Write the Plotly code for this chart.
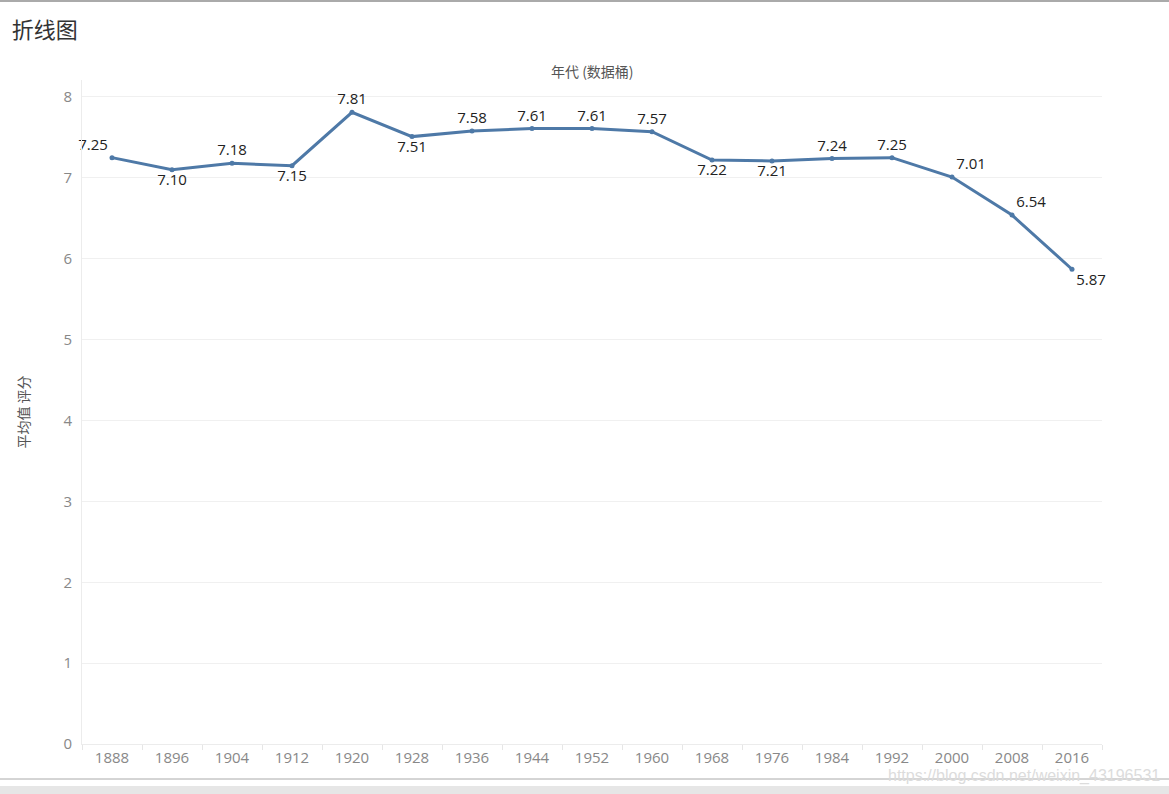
import plotly.graph_objects as go

years = [1888, 1896, 1904, 1912, 1920, 1928, 1936, 1944, 1952, 1960,
         1968, 1976, 1984, 1992, 2000, 2008, 2016]
ratings = [7.25, 7.10, 7.18, 7.15, 7.81, 7.51, 7.58, 7.61, 7.61, 7.57,
           7.22, 7.21, 7.24, 7.25, 7.01, 6.54, 5.87]
label_pos = ["top left", "bottom center", "top center", "bottom center", "top center",
             "bottom center", "top center", "top center", "top center", "top center",
             "bottom center", "bottom center", "top center", "top center", "top right",
             "top right", "bottom right"]
y_ticks = [0, 1, 2, 3, 4, 5, 6, 7, 8]

font_cjk = "Noto Sans CJK SC"
W, H = 1169, 794
L, R, T, B = 82, 67, 80, 50
PW, PH = W - L - R, H - T - B


def py(pix):
    """paper y from a pixel row"""
    return (H - B - pix) / PH


fig = go.Figure()
fig.add_trace(go.Scatter(
    x=years, y=ratings, mode="lines+markers+text",
    line=dict(color="#4e79a7", width=3),
    marker=dict(color="#4e79a7", size=5),
    text=[f"{v:.2f}" for v in ratings],
    textposition=label_pos,
    textfont=dict(family="Open Sans", size=15, color="#222"),
    cliponaxis=False,
    hoverinfo="skip", showlegend=False,
))

fig.update_layout(
    width=W, height=H,
    margin=dict(l=L, r=R, t=T, b=B, autoexpand=False),
    paper_bgcolor="white", plot_bgcolor="white",
    title=dict(text="折线图", x=0.01, xanchor="left", y=1 - 30 / H, yanchor="middle",
               font=dict(family=font_cjk, size=22, color="#333")),
    xaxis=dict(
        range=[1884, 2020], tickvals=years, ticktext=[str(y) for y in years],
        automargin=False,
        showgrid=False, zeroline=False,
        showline=True, linecolor="#ececec", linewidth=1,
        ticks="", tickfont=dict(family="Open Sans", size=15, color="#888"),
        minor=dict(tickvals=[1884 + 8 * i for i in range(18)], ticks="outside",
                   ticklen=5, tickcolor="#e6e6e6", showgrid=False),
        title=dict(text=""),
    ),
    yaxis=dict(
        range=[0, 8.21], tickvals=y_ticks, automargin=False,
        showgrid=True, gridcolor="#f0f0f0", gridwidth=1,
        zeroline=False, showline=True, linecolor="#ececec", linewidth=1,
        ticks="outside", ticklen=6, tickcolor="white",
        tickfont=dict(family="Open Sans", size=15, color="#888"),
        title=dict(text="平均值 评分", font=dict(family=font_cjk, size=14, color="#555"),
                   standoff=30),
    ),
)

fig.add_annotation(text="年代 (数据桶)", xref="paper", yref="paper",
                   x=0.5, y=py(71), yanchor="middle", showarrow=False,
                   font=dict(family=font_cjk, size=14, color="#555"))

x_left, x_right = -L / PW, 1 + R / PW
# window frame lines
fig.add_shape(type="line", xref="paper", yref="paper", x0=x_left, x1=x_right,
              y0=py(1), y1=py(1), line=dict(color="#aaa", width=2))
fig.add_shape(type="rect", xref="paper", yref="paper", x0=x_left, x1=x_right,
              y0=py(794), y1=py(786), fillcolor="#e6e6e6",
              line=dict(width=0), layer="below")
fig.add_shape(type="line", xref="paper", yref="paper", x0=x_left, x1=x_right,
              y0=py(779), y1=py(779), line=dict(color="#aaa", width=1))

fig.add_annotation(text="https://blog.csdn.net/weixin_43196531", xref="paper", yref="paper",
                   x=1 + 60 / PW, y=py(776), xanchor="right", yanchor="middle",
                   showarrow=False, font=dict(family="Arial", size=16, color="#dcdcdc"))

fig.write_html("out.html")
